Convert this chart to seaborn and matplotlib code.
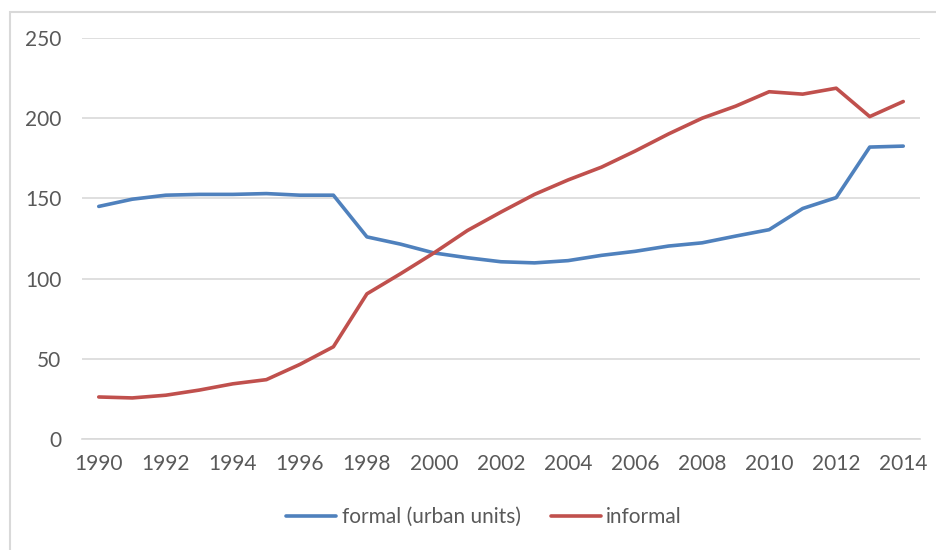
import pandas as pd
import matplotlib.pyplot as plt
import seaborn as sns
from matplotlib.patches import Rectangle

years = list(range(1990, 2015))
formal = [145, 149.5, 152, 152.5, 152.5, 153, 152, 152, 126, 121.5, 116, 113, 110.5, 109.8, 111.2, 114.5, 117,
          120.3, 122.3, 126.5, 130.5, 143.7, 150.5, 182, 182.6]
informal = [26.2, 25.6, 27.3, 30.5, 34.4, 37, 46.5, 57.5, 90.5, 103, 116, 130, 141.5, 152.5, 161.5, 169.5, 179.5,
            190.2, 200, 207.5, 216.5, 215, 218.7, 201, 210.4]
series_names = ['formal (urban units)', 'informal']
colors = ['#4F81BD', '#C0504D']

df = pd.DataFrame({'year': years, series_names[0]: formal, series_names[1]: informal})
long = df.melt(id_vars='year', var_name='series', value_name='value')

sns.set_theme(style='white')
plt.rcParams['font.family'] = ['Lato', 'DejaVu Sans']
text_color = '#595959'
grid_color = '#D9D9D9'

fig = plt.figure(figsize=(9.37, 5.5), dpi=100)
ax = fig.add_axes([82 / 937, 111 / 550, (920 - 82) / 937, (439 - 38) / 550])

ax.set_ylim(0, 250)
ax.set_xlim(1989.5, 2014.5)
ax.set_yticks(range(0, 251, 50))
ax.set_xticks(range(1990, 2015, 2))
ax.grid(axis='y', color=grid_color, linewidth=1.2)
ax.set_axisbelow(True)

sns.lineplot(data=long, x='year', y='value', hue='series', palette=colors,
             linewidth=2.6, ax=ax, legend=True)
for line in ax.lines:
    line.set_solid_joinstyle('round')
    line.set_solid_capstyle('round')

for s in ['top', 'right', 'left']:
    ax.spines[s].set_visible(False)
ax.spines['bottom'].set_color(grid_color)
ax.spines['bottom'].set_linewidth(1.2)

ax.tick_params(axis='both', length=0, labelsize=15, labelcolor=text_color)
ax.tick_params(axis='y', pad=15)
ax.tick_params(axis='x', pad=11)
ax.set_xlabel('')
ax.set_ylabel('')

handles, labels = ax.get_legend_handles_labels()
ax.get_legend().remove()
fig.legend(handles, labels, loc='center', bbox_to_anchor=(484 / 937, 1 - 517 / 550), ncol=2,
           frameon=False, fontsize=15, labelcolor=text_color, handlelength=2.4,
           handletextpad=0.25, columnspacing=1.45)

fig.patches.append(Rectangle((10.5 / 937, -0.1), 1.2, 1 - 11.5 / 550 + 0.1, transform=fig.transFigure,
                             fill=False, edgecolor=grid_color, linewidth=1.5))

fig.savefig('out.png', dpi=100)
